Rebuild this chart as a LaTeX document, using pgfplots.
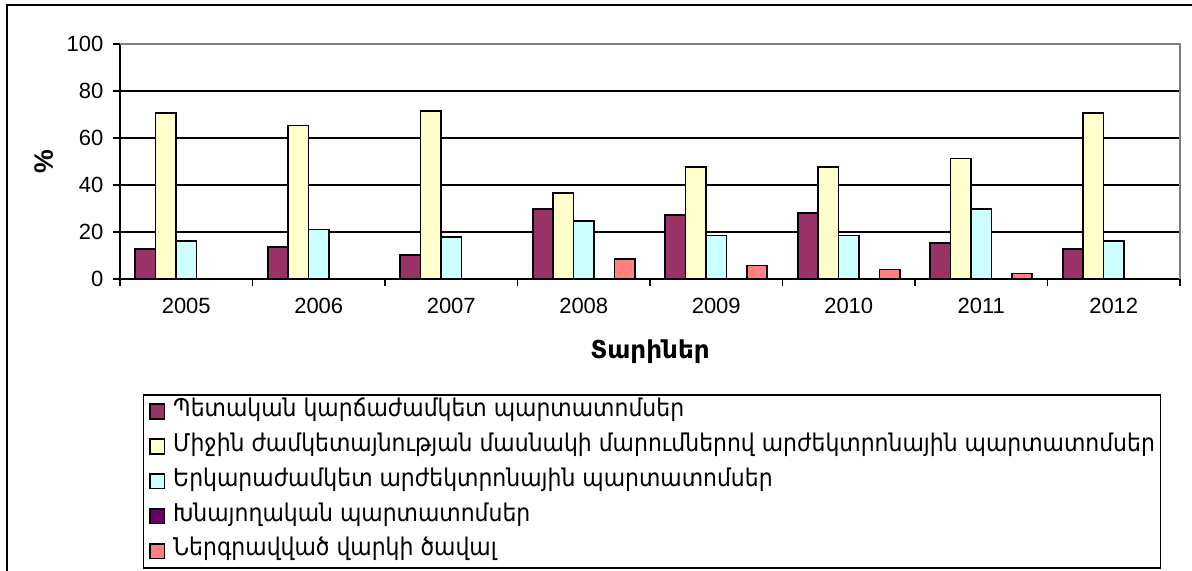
\documentclass[border=0pt]{standalone}
\usepackage{fontspec}
\setmainfont{Liberation Sans}
\newfontfamily\arm{DejaVu Sans Condensed}
\newfontfamily\armb{DejaVu Sans}
\usepackage{pgfplots}
\pgfplotsset{compat=1.18}
\definecolor{cA}{HTML}{993366}
\definecolor{cB}{HTML}{FFFFCC}
\definecolor{cC}{HTML}{CCFFFF}
\definecolor{cD}{HTML}{660066}
\definecolor{cE}{HTML}{FF8080}
\definecolor{gridgray}{HTML}{808080}
\begin{document}
\begin{tikzpicture}
\useasboundingbox (0,0) rectangle (894pt,-428.25pt);
\draw[line width=1.5pt] (5.5pt,-3.75pt) rectangle (900pt,-440pt);
\begin{axis}[
  at={(90pt,-209.25pt)}, anchor=south west,
  width=795pt, height=176.25pt, scale only axis,
  xmin=-0.5, xmax=7.5, ymin=0, ymax=100,
  ybar=0pt, bar width=0.1538,
  axis x line*=bottom, axis y line*=left,
  x axis line style={-, line width=1.2pt},
  y axis line style={-, line width=1.2pt},
  xtick={0,...,7},
  xticklabels={2005,2006,2007,2008,2009,2010,2011,2012},
  minor xtick={-0.5,0.5,...,7.5},
  major x tick style={draw=none},
  minor x tick style={black, line width=1.1pt},
  minor tick length=5pt,
  ytick={0,20,...,100},
  y tick style={black, line width=1.1pt},
  major tick length=5pt,
  tick align=outside,
  /pgf/number format/assume math mode=true,
  ymajorgrids, grid style={black, line width=1.1pt},
  ticklabel style={font=\fontsize{16.5}{19}\selectfont},
  xticklabel style={yshift=-5.5pt},
  yticklabel style={xshift=-4pt},
  xlabel={\armb\bfseries Տարիներ},
  xlabel style={font=\fontsize{18.5}{22}\selectfont, at={(axis description cs:0.5,-0.31)}, anchor=center},
  ylabel={\bfseries\%},
  ylabel style={font=\fontsize{20}{24}\selectfont, at={(axis description cs:-0.072,0.5)}, anchor=center},
  legend style={at={(axis description cs:0.0217,-0.49)}, anchor=north west,
    draw=black, line width=1.1pt, inner xsep=4pt, inner ysep=5pt,
    font=\arm\fontsize{18.3}{21}\selectfont, row sep=11.2pt,
    nodes={inner sep=0pt, text height=11pt, text depth=4pt},
    /tikz/every odd column/.append style={column sep=6pt}},
  legend cell align=left,
  legend image code/.code={\draw[#1, draw=black, line width=1.1pt] (0pt,-5.5pt) rectangle (11pt,5.5pt);},
  after end axis/.code={\draw[gridgray, line width=1.4pt] (rel axis cs:0,1) -- (rel axis cs:1,1) -- (rel axis cs:1,0);},
]
\addplot[fill=cA, draw=black, line width=1.2pt, bar shift=-0.3077] coordinates {(0,12.7) (1,13.5) (2,10.1) (3,29.7) (4,27.2) (5,28.0) (6,15.2) (7,12.7)};
\addlegendentry{Պետական կարճաժամկետ պարտատոմսեր}
\addplot[fill=cB, draw=black, line width=1.2pt, bar shift=-0.1538] coordinates {(0,70.6) (1,65.4) (2,71.6) (3,36.6) (4,47.7) (5,47.7) (6,51.2) (7,70.6)};
\addlegendentry{Միջին ժամկետայնության մասնակի մարումներով արժեկտրոնային պարտատոմսեր}
\addplot[fill=cC, draw=black, line width=1.2pt, bar shift=0] coordinates {(0,16.1) (1,21.1) (2,17.8) (3,24.6) (4,18.5) (5,18.5) (6,29.7) (7,16.1)};
\addlegendentry{Երկարաժամկետ արժեկտրոնային պարտատոմսեր}
\addplot[fill=cD, draw=black, line width=1.2pt, bar shift=0.1538] coordinates {(0,0) (1,0) (2,0) (3,0) (4,0) (5,0) (6,0) (7,0)};
\addlegendentry{Խնայողական պարտատոմսեր}
\addplot[fill=cE, draw=black, line width=1.2pt, bar shift=0.3077] coordinates {(3,8.4) (4,5.8) (5,4.1) (6,2.4)};
\addlegendentry{Ներգրավված վարկի ծավալ}
\end{axis}
\end{tikzpicture}
\end{document}
